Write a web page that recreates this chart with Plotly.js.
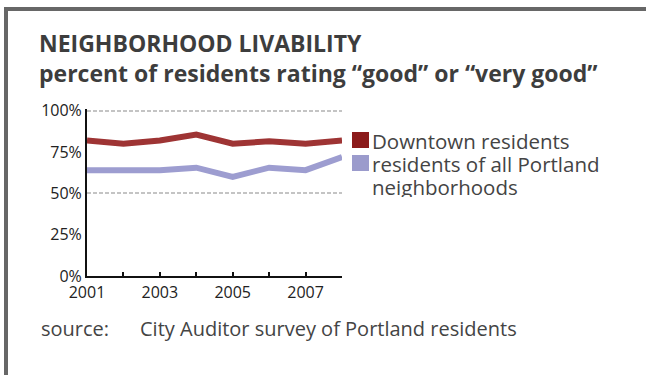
<!DOCTYPE html>
<html>
<head>
<meta charset="utf-8">
<script src="https://cdn.plot.ly/plotly-3.0.1.min.js"></script>
<style>
  html, body { margin: 0; padding: 0; background: #ffffff; }
  #frame { position: absolute; left: 4px; top: 7px; width: 650px; height: 380px;
           border-top: 4px solid #676767; border-left: 4px solid #676767; box-sizing: border-box; }
  #chart { position: absolute; left: 0; top: 0; width: 646px; height: 375px; }
</style>
</head>
<body>
<div id="frame"></div>
<div id="chart"></div>
<script>
const years = [2001, 2002, 2003, 2004, 2005, 2006, 2007, 2008];
const downtown = [82, 80, 82, 85.5, 80, 81.5, 80, 82];
const portland = [64, 64, 64, 65.5, 60, 65.5, 64, 72];
const seriesNames = ["Downtown residents", "residents of all Portland neighborhoods"];
const legendLines = [["Downtown residents"], ["residents of all Portland", "neighborhoods"]];
const seriesColors = ["#9e3434", "#9d9dd0"];
const swatchColors = ["#8b1a1a", "#9b9bcc"];
const xTickVals = [2001, 2003, 2005, 2007];
const yTickVals = [0, 25, 50, 75, 100];
const yTickText = ["0%", "25%", "50%", "75%", "100%"];
const gridVals = [50, 100];
const titleText = "NEIGHBORHOOD LIVABILITY";
const subtitleText = "percent of residents rating \u201cgood\u201d or \u201cvery good\u201d";
const sourceLabel = "source:";
const sourceText = "City Auditor survey of Portland residents";

const FONT = "Open Sans, Lato, sans-serif";
const TXT = "#3d3d3d";

// plot area in pixels: x 87..342, y 109..276 (range 0..101)
const L = 87, R = 342, T = 109, B = 276;
const px = v => (v - L) / (R - L);
const py = v => (B - v) / (B - T);

const traces = [
  { x: years, y: downtown, mode: "lines", name: seriesNames[0],
    line: { color: seriesColors[0], width: 6 }, showlegend: false, hoverinfo: "skip" },
  { x: years, y: portland, mode: "lines", name: seriesNames[1],
    line: { color: seriesColors[1], width: 6 }, showlegend: false, hoverinfo: "skip" },
  // overlay axis carrying only the dashed gridlines
  { x: years, y: downtown, yaxis: "y2", mode: "lines", line: { width: 0 }, opacity: 0, showlegend: false, hoverinfo: "skip" }
];

const annotations = [
  { text: "<b>" + titleText + "</b>", xref: "paper", yref: "paper",
    x: px(37), y: py(43), xanchor: "left", yanchor: "middle", showarrow: false,
    font: { family: FONT, size: 23, color: TXT } },
  { text: "<b>" + subtitleText + "</b>", xref: "paper", yref: "paper",
    x: px(37), y: py(73), xanchor: "left", yanchor: "middle", showarrow: false,
    font: { family: FONT, size: 23, color: TXT } },
  { text: sourceLabel, xref: "paper", yref: "paper",
    x: px(39), y: py(328), xanchor: "left", yanchor: "middle", showarrow: false,
    font: { family: FONT, size: 20, color: "#444444" } },
  { text: sourceText, xref: "paper", yref: "paper",
    x: px(138), y: py(328), xanchor: "left", yanchor: "middle", showarrow: false,
    font: { family: FONT, size: 20, color: "#444444" } }
];

const swatchRows = [140, 163];
let row = 141;
legendLines.forEach((lines, i) => {
  annotations.push({ text: "", xref: "paper", yref: "paper", x: px(352), y: py(swatchRows[i]),
    xanchor: "left", yanchor: "middle", showarrow: false, width: 17, height: 16,
    bgcolor: swatchColors[i], borderpad: 0, borderwidth: 0 });
  lines.forEach(t => {
    annotations.push({ text: t, xref: "paper", yref: "paper", x: px(370), y: py(row),
      xanchor: "left", yanchor: "middle", showarrow: false, height: 20,
      font: { family: FONT, size: 20.5, color: "#444444" } });
    row += 23;
  });
});

const layout = {
  width: 646, height: 375,
  margin: { l: L, r: 646 - R, t: T, b: 375 - B },
  paper_bgcolor: "rgba(0,0,0,0)",
  plot_bgcolor: "rgba(0,0,0,0)",
  font: { family: FONT, color: TXT },
  showlegend: false,
  xaxis: {
    range: [2001, 2008], tickvals: xTickVals, ticktext: xTickVals.map(String),
    showgrid: false, zeroline: false,
    showline: true, linecolor: "#111111", linewidth: 2,
    ticks: "inside", ticklen: 4, tickwidth: 2, tickcolor: "#111111",
    minor: { dtick: 1, tick0: 2001, ticks: "inside", ticklen: 4, tickwidth: 2, tickcolor: "#111111", showgrid: false },
    tickfont: { family: FONT, size: 16, color: "#222222" },
    ticklabelstandoff: 1,
    fixedrange: true
  },
  yaxis: {
    range: [0, 101], tickvals: yTickVals, ticktext: yTickText,
    showgrid: false, zeroline: false,
    showline: true, linecolor: "#111111", linewidth: 2,
    ticks: "", tickfont: { family: FONT, size: 16, color: "#222222" },
    fixedrange: true
  },
  yaxis2: {
    overlaying: "y", range: [0, 101], tickvals: gridVals,
    showticklabels: false, showline: false, zeroline: false, ticks: "",
    showgrid: true, gridcolor: "#c4c4c4", gridwidth: 2, griddash: "4px,2px",
    fixedrange: true
  },
  annotations: annotations
};

Plotly.newPlot("chart", traces, layout, { displayModeBar: false, staticPlot: true });
</script>
</body>
</html>
